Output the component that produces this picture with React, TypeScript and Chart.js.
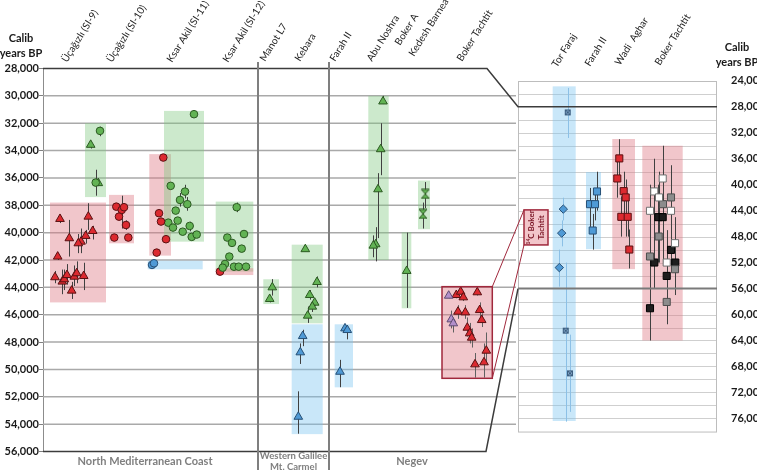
import React, { useEffect, useRef } from "react";
import { Chart, registerables } from "chart.js";

Chart.register(...registerables);

// ---------- data: [x position, calibrated age BP, error low, error high] ----------
type Pt = [number, number, number, number];

const X_RANGE = [43, 717];
const LEFT_RANGE = [28000, 56000];
const RIGHT_RANGE = [22100, 81100];
const LEFT_GRID = [30000, 32000, 34000, 36000, 38000, 40000, 42000, 44000, 46000, 48000, 50000, 52000, 54000];
const RIGHT_GRID = [26000, 30000, 32000, 34000, 36000, 38000, 40000, 42000, 44000, 46000, 48000, 50000, 52000, 54000, 58000, 60000, 62000, 64000, 66000, 68000, 70000, 72000, 74000, 76000];
const RIGHT_TICKS = [24000, 28000, 32000, 36000, 40000, 44000, 48000, 52000, 56000, 60000, 64000, 68000, 72000, 76000];
const PANEL_X = [518, 717];
const PANEL_Y = [24000, 78000];

// North Mediterranean coast
const SI9_GREEN_CIRCLE: Pt[] = [[100, 32560, 32250, 32950], [95.7, 36340, 35400, 37300]];
const SI9_GREEN_TRI: Pt[] = [[90.7, 33580, 33350, 33850], [98.3, 36380, 36200, 36600]];
const SI9_RED_TRI: Pt[] = [
  [60, 39000, 38700, 39300], [88.3, 38830, 37850, 39800], [92.7, 39880, 39500, 40500],
  [69.3, 40410, 39070, 41750], [85.7, 40240, 39800, 40800], [81, 40660, 39700, 41500],
  [78.3, 40780, 40100, 41500], [57.7, 41750, 41500, 42000], [55, 43260, 42800, 43700],
  [62.3, 43580, 42700, 44500], [64.3, 43410, 42700, 44200], [67, 43100, 42300, 43800],
  [74.3, 43220, 42400, 43900], [76.7, 42970, 42100, 43700], [83.7, 43170, 42200, 44200],
  [71.7, 44240, 43600, 44850],
];
const SI10_RED_CIRCLE: Pt[] = [
  [116.3, 38100, 37900, 38300], [121.7, 38340, 37300, 39700], [124, 38140, 37900, 38400],
  [119, 38830, 38600, 39100], [126, 39440, 39100, 39800], [114.3, 40360, 40100, 40600],
  [128.3, 40360, 40100, 40600],
];
const SI11_RED_CIRCLE: Pt[] = [
  [163.3, 34510, 34400, 34620], [159, 38580, 38450, 38700], [161, 39190, 39050, 39300],
  [166, 40480, 40350, 40600], [156.7, 41460, 41350, 41580],
];
const SI11_BLUE_CIRCLE: Pt[] = [[152, 42360, 42300, 42420], [154, 42240, 42180, 42300]];
const SI11_GREEN_CIRCLE: Pt[] = [
  [194, 31340, 31250, 31430], [170.7, 36580, 36450, 36700], [185, 37000, 36500, 37500],
  [180, 37610, 37100, 38100], [187.3, 37920, 37400, 38400], [175.7, 38390, 38250, 38500],
  [177.7, 39120, 39000, 39250], [168.3, 39270, 39150, 39400], [173, 39630, 39500, 39750],
  [189.7, 39510, 39200, 39900], [182.7, 39930, 39800, 40050], [191.7, 40310, 40200, 40450],
  [196.7, 40140, 40000, 40250],
];
const SI12_GREEN_CIRCLE: Pt[] = [
  [236.7, 38140, 37800, 38500], [227.3, 40360, 40250, 40500], [244, 40100, 40000, 40200],
  [232, 40750, 40650, 40850], [241.7, 41170, 41050, 41300], [229.3, 41750, 41650, 41850],
  [225, 42290, 42200, 42400], [222.7, 42560, 42450, 42650], [234, 42490, 42400, 42600],
  [238.7, 42490, 42400, 42600], [246, 42490, 42400, 42600],
];
const SI12_RED_CIRCLE: Pt[] = [[220, 42850, 42750, 42950]];

// Western Galilee / Mt. Carmel
const MANOT_GREEN_TRI: Pt[] = [[272.3, 44000, 43400, 44600], [269.7, 44850, 44600, 45100]];
const KEBARA_GREEN_TRI: Pt[] = [
  [305.3, 41210, 41100, 41350], [317, 43610, 43200, 44000], [309.7, 44560, 44200, 44900],
  [314.7, 45120, 44900, 45350], [312.3, 45410, 45000, 45800], [307.7, 46070, 45400, 46600],
];
const KEBARA_BLUE_TRI: Pt[] = [[302.7, 47560, 47100, 48300], [300.3, 48750, 48100, 49600], [298.3, 53460, 51600, 54700]];

// Negev
const FARAH_BLUE_TRI: Pt[] = [[345, 47000, 46800, 47300], [347.3, 47120, 46800, 47800], [340, 50170, 49300, 51300]];
const ABU_NOSHRA_GREEN_TRI: Pt[] = [
  [383, 30410, 30000, 30600], [380.7, 33900, 32000, 35800], [378, 36830, 35650, 40400],
  [375.7, 40850, 39600, 42100], [373.3, 40950, 40200, 41800],
];
const BOKER_A_GREEN_TRI: Pt[] = [[406.7, 42800, 40000, 45500]];
const KEDESH_GREEN_HOURGLASS: Pt[] = [[425.3, 37170, 36300, 38200], [423, 38630, 37800, 39700]];
const BOKER_T_PURPLE_TRI: Pt[] = [[448.7, 44610, 44450, 44800], [451.3, 46340, 45700, 47000], [453.3, 46630, 46200, 47300]];
const BOKER_T_RED_TRI: Pt[] = [
  [456.3, 44560, 44300, 44800], [460.7, 44320, 44000, 44700], [463.3, 44730, 44500, 45000],
  [477.3, 44360, 44100, 44600], [458, 45780, 45300, 46300], [465.3, 45830, 45300, 46300],
  [479.7, 45660, 45100, 46300], [481.7, 46390, 45900, 46900], [467.3, 46950, 46200, 47600],
  [469.7, 47360, 46600, 48100], [471.7, 47680, 47000, 48400], [486.3, 48630, 47300, 49500],
  [475, 49630, 48800, 50600], [484, 49480, 48100, 50600],
];

// Right panel (other scale)
const TOR_FARAJ_DIAMOND: Pt[] = [[563.3, 43760, 42000, 45500], [561.7, 47460, 45500, 49500], [559.3, 52770, 50000, 55700]];
const TOR_FARAJ_CROSS: Pt[] = [[567.7, 28860, 25100, 32800], [565.7, 62480, 52000, 76500], [570, 69060, 63100, 75000]];
const FARAH_R_BLUE_SQ: Pt[] = [[597, 41040, 38000, 44000], [590, 43000, 40500, 46500], [595, 43000, 41500, 45500], [592.7, 47060, 44500, 50000]];
const WADI_AGHAR_RED_SQ: Pt[] = [
  [619.3, 35950, 33000, 38800], [617.3, 39040, 35900, 42000], [623.7, 40990, 38000, 44400],
  [625.7, 41960, 39200, 48000], [621.3, 44950, 41800, 48000], [627.7, 44950, 42000, 48000],
  [629.3, 49990, 46900, 52900],
];
const BOKER_T_WHITE_SQ: Pt[] = [
  [662.7, 39040, 34000, 52000], [654.3, 41040, 36000, 50000], [659, 41960, 38000, 49000],
  [650, 44020, 40000, 51000], [671, 44020, 38500, 53000], [675, 49010, 45000, 55000],
  [666.7, 51990, 47000, 55000],
];
const BOKER_T_GRAY_SQ: Pt[] = [
  [671, 41960, 37000, 49000], [663, 43000, 38500, 51000], [658.7, 47980, 45000, 52000],
  [650, 51060, 46000, 56000], [675, 53020, 49000, 57000], [666.7, 58060, 54000, 61500],
];
const BOKER_T_BLACK_SQ: Pt[] = [
  [658.3, 45000, 40000, 52000], [662.7, 45000, 40000, 52000], [671, 50040, 39000, 52000],
  [654.3, 51990, 44000, 56000], [675.3, 51990, 46500, 55000], [666.7, 54050, 48000, 61000],
  [650, 59030, 44000, 64000],
];

// shaded ranges: [axis, colour kind, x0, x1, age top, age bottom]
const REGIONS: [string, string, number, number, number, number][] = [
  ["y", "pink", 50, 106, 37800, 45100],
  ["y", "green", 85, 106, 32000, 37400],
  ["y", "pink", 109, 134, 37240, 40780],
  ["y", "pink", 149.3, 171, 34260, 41680],
  ["y", "green", 164, 204, 31100, 40660],
  ["y", "blue", 147.7, 202.7, 42050, 42680],
  ["y", "green", 215.7, 253.3, 37730, 42850],
  ["y", "pink", 215.7, 253.3, 42600, 43100],
  ["y", "green", 263.3, 279, 43410, 45220],
  ["y", "green", 291.7, 322.7, 40880, 46630],
  ["y", "blue", 291.7, 322.7, 46700, 54730],
  ["y", "blue", 334.7, 353, 46700, 51310],
  ["y", "green", 368.3, 388.7, 30000, 42000],
  ["y", "green", 401.7, 411.3, 39970, 45530],
  ["y", "green", 418, 430, 36190, 39750],
  ["y", "pink", 442, 492.3, 43950, 50650],
  ["y2", "blue", 552.7, 575.7, 24850, 76400],
  ["y2", "blue", 586, 601, 38050, 49930],
  ["y2", "pink", 612.3, 635, 32960, 53010],
  ["y2", "pink", 642.3, 682.7, 34000, 64000],
];
const ZOOM_BOX = [442, 492.3, 43950, 50650];
const ZOOM_LABEL = [524, 548, 43880, 49280];

// labels: [text, x, baseline y]
const SITE_LABELS: [string, number, number][] = [
  ["Üçağızlı (SI-9)", 67, 63], ["Üçağızlı (SI-10)", 112, 63], ["Ksar Akil (SI-11)", 172, 63],
  ["Ksar Akil (SI-12)", 228, 63], ["Manot L7", 265, 62], ["Kebara", 300, 62], ["Farah II", 335, 62],
  ["Abu Noshra", 372, 62], ["Boker A", 400, 46], ["Kedesh Barnea", 414, 57], ["Boker Tachtit", 462, 62],
  ["Tor Faraj", 557, 68], ["Farah II", 590, 67], ["Wadi  Aghar", 620, 66], ["Boker Tachtit", 660, 66],
];
const REGION_LABELS: [string, number, number, number][] = [
  ["North Mediterranean Coast", 145, 461, 11], ["Western Galilee", 293.5, 456, 9.5],
  ["Mt. Carmel", 293.5, 467, 9.5], ["Negev", 412, 461, 11],
];
const SEPARATORS = [258, 329];

// ---------- styles ----------
const FILL: Record<string, string> = {
  red: "#dc2a30", green: "#62b354", blue: "#4f9ad6", purple: "#b28fca",
  white: "#ffffff", gray: "#8c8c8c", black: "#1e1e1e", steel: "#7fa3c7",
};
const EDGE: Record<string, string> = {
  red: "#5a1012", green: "#2b5921", blue: "#264f75", purple: "#5f4a70",
  white: "#707070", gray: "#4d4d4d", black: "#000000", steel: "#3d5f80",
};
const REGION_FILL: Record<string, string> = {
  pink: "rgba(222,118,132,0.42)", green: "rgba(128,200,128,0.40)", blue: "rgba(120,196,240,0.40)",
};
const FONT = "Lato, 'Open Sans', 'DejaVu Sans', sans-serif";

const fmt = (v: number) => String(v).replace(/\B(?=(\d{3})+(?!\d))/g, ",");

function hourglass(): HTMLCanvasElement {
  const c = document.createElement("canvas");
  c.width = 10; c.height = 11;
  const g = c.getContext("2d")!;
  g.fillStyle = FILL.green; g.strokeStyle = EDGE.green; g.lineWidth = 1;
  g.beginPath();
  g.moveTo(1, 1); g.lineTo(9, 1); g.lineTo(5, 5.5); g.closePath();
  g.moveTo(5, 5.5); g.lineTo(9, 10); g.lineTo(1, 10); g.closePath();
  g.fill(); g.stroke();
  return c;
}
function crossSquare(): HTMLCanvasElement {
  const c = document.createElement("canvas");
  c.width = 8; c.height = 8;
  const g = c.getContext("2d")!;
  g.fillStyle = FILL.steel; g.fillRect(1, 1, 6, 6);
  g.strokeStyle = EDGE.steel; g.lineWidth = 1;
  g.strokeRect(1.5, 1.5, 5, 5);
  g.beginPath(); g.moveTo(1.5, 1.5); g.lineTo(6.5, 6.5); g.moveTo(6.5, 1.5); g.lineTo(1.5, 6.5); g.stroke();
  return c;
}

function buildDatasets() {
  const hg = hourglass();
  const cs = crossSquare();
  const spec: [Pt[], string, any, string, number, string][] = [
    [SI9_GREEN_CIRCLE, "y", "circle", "green", 3.8, "#404040"],
    [SI9_GREEN_TRI, "y", "triangle", "green", 5, "#404040"],
    [SI9_RED_TRI, "y", "triangle", "red", 5, "#404040"],
    [SI10_RED_CIRCLE, "y", "circle", "red", 3.8, "#404040"],
    [SI11_RED_CIRCLE, "y", "circle", "red", 3.8, "#404040"],
    [SI11_BLUE_CIRCLE, "y", "circle", "blue", 3.8, "#404040"],
    [SI11_GREEN_CIRCLE, "y", "circle", "green", 3.8, "#404040"],
    [SI12_GREEN_CIRCLE, "y", "circle", "green", 3.8, "#404040"],
    [SI12_RED_CIRCLE, "y", "circle", "red", 3.8, "#404040"],
    [MANOT_GREEN_TRI, "y", "triangle", "green", 5, "#404040"],
    [KEBARA_GREEN_TRI, "y", "triangle", "green", 5, "#404040"],
    [KEBARA_BLUE_TRI, "y", "triangle", "blue", 5, "#404040"],
    [FARAH_BLUE_TRI, "y", "triangle", "blue", 5, "#404040"],
    [ABU_NOSHRA_GREEN_TRI, "y", "triangle", "green", 5, "#404040"],
    [BOKER_A_GREEN_TRI, "y", "triangle", "green", 5, "#404040"],
    [KEDESH_GREEN_HOURGLASS, "y", hg, "green", 5, "#404040"],
    [BOKER_T_PURPLE_TRI, "y", "triangle", "purple", 5, "#606060"],
    [BOKER_T_RED_TRI, "y", "triangle", "red", 5, "#606060"],
    [TOR_FARAJ_DIAMOND, "y2", "rectRot", "blue", 4.2, "#8cc0e6"],
    [TOR_FARAJ_CROSS, "y2", cs, "steel", 4, "#8cc0e6"],
    [FARAH_R_BLUE_SQ, "y2", "rect", "blue", 5, "#404040"],
    [WADI_AGHAR_RED_SQ, "y2", "rect", "red", 5, "#404040"],
    [BOKER_T_WHITE_SQ, "y2", "rect", "white", 5, "#404040"],
    [BOKER_T_GRAY_SQ, "y2", "rect", "gray", 5, "#404040"],
    [BOKER_T_BLACK_SQ, "y2", "rect", "black", 5, "#404040"],
  ];
  return spec.map(([pts, axis, shape, kind, r, err]) => ({
    type: "scatter" as const,
    data: pts.map(([x, y, lo, hi]) => ({ x, y, lo, hi })),
    yAxisID: axis,
    pointStyle: shape,
    pointRadius: r,
    pointBackgroundColor: FILL[kind],
    pointBorderColor: EDGE[kind],
    pointBorderWidth: 1,
    errColor: err,
  }));
}

function rotText(ctx: CanvasRenderingContext2D, t: string, x: number, y: number, deg: number) {
  ctx.save();
  ctx.translate(x, y);
  ctx.rotate((deg * Math.PI) / 180);
  ctx.fillText(t, 0, 0);
  ctx.restore();
}

const decor = {
  id: "decor",
  beforeDatasetsDraw(chart: any) {
    const { ctx } = chart;
    const X = (v: number) => chart.scales.x.getPixelForValue(v);
    const YL = (v: number) => chart.scales.y.getPixelForValue(v);
    const YR = (v: number) => chart.scales.y2.getPixelForValue(v);
    const line = (x0: number, y0: number, x1: number, y1: number) => {
      ctx.beginPath(); ctx.moveTo(x0, y0); ctx.lineTo(x1, y1); ctx.stroke();
    };
    ctx.save();
    // right panel grid
    ctx.lineWidth = 1; ctx.strokeStyle = "#cfcfcf";
    RIGHT_GRID.forEach((v) => { const y = Math.round(YR(v)) + 0.5; line(X(PANEL_X[0]), y, X(PANEL_X[1]), y); });
    ctx.strokeStyle = "#bdbdbd";
    ctx.strokeRect(X(PANEL_X[0]) + 0.5, Math.round(YR(PANEL_Y[0])) + 0.5, X(PANEL_X[1]) - X(PANEL_X[0]) - 1, YR(PANEL_Y[1]) - YR(PANEL_Y[0]));
    // left grid
    ctx.lineWidth = 1.5; ctx.strokeStyle = "#a9a9a9";
    LEFT_GRID.forEach((v) => { const y = YL(v); line(X(X_RANGE[0]), y, X(516), y); });
    // shaded regions
    REGIONS.forEach(([axis, kind, x0, x1, y0, y1]) => {
      const Y = axis === "y" ? YL : YR;
      ctx.fillStyle = REGION_FILL[kind];
      ctx.fillRect(X(x0), Y(y0), X(x1) - X(x0), Y(y1) - Y(y0));
    });
    // error bars
    ctx.lineWidth = 1;
    chart.data.datasets.forEach((ds: any, i: number) => {
      const meta = chart.getDatasetMeta(i);
      const sc = chart.scales[ds.yAxisID];
      ctx.strokeStyle = ds.errColor;
      meta.data.forEach((el: any, j: number) => {
        const d = ds.data[j];
        const x = Math.round(el.x) + 0.5;
        line(x, sc.getPixelForValue(d.lo), x, sc.getPixelForValue(d.hi));
      });
    });
    ctx.restore();
  },
  afterDatasetsDraw(chart: any) {
    const { ctx } = chart;
    const X = (v: number) => chart.scales.x.getPixelForValue(v);
    const YL = (v: number) => chart.scales.y.getPixelForValue(v);
    const YR = (v: number) => chart.scales.y2.getPixelForValue(v);
    const line = (x0: number, y0: number, x1: number, y1: number) => {
      ctx.beginPath(); ctx.moveTo(x0, y0); ctx.lineTo(x1, y1); ctx.stroke();
    };
    ctx.save();
    // top & bottom frame lines with connectors into right panel
    ctx.lineWidth = 1.5; ctx.strokeStyle = "#3c3c3c";
    ctx.beginPath();
    ctx.moveTo(X(X_RANGE[0]), YL(LEFT_RANGE[0])); ctx.lineTo(X(487), YL(LEFT_RANGE[0]));
    ctx.lineTo(X(PANEL_X[0]), YR(28000)); ctx.lineTo(X(PANEL_X[1]), YR(28000));
    ctx.stroke();
    ctx.beginPath();
    ctx.moveTo(X(X_RANGE[0]), YL(LEFT_RANGE[1])); ctx.lineTo(X(486), YL(LEFT_RANGE[1]));
    ctx.lineTo(X(PANEL_X[0]), YR(56000));
    ctx.stroke();
    ctx.lineWidth = 2; ctx.strokeStyle = "#7a7a7a";
    line(X(PANEL_X[0]), YR(56000), X(PANEL_X[1]), YR(56000));
    // separators
    ctx.lineWidth = 2; ctx.strokeStyle = "#7f7f7f";
    SEPARATORS.forEach((s) => line(X(s), 62, X(s), 470));
    // zoom box + connectors + label
    ctx.strokeStyle = "#a0283c"; ctx.lineWidth = 1.5;
    ctx.strokeRect(X(ZOOM_BOX[0]), YL(ZOOM_BOX[2]), X(ZOOM_BOX[1]) - X(ZOOM_BOX[0]), YL(ZOOM_BOX[3]) - YL(ZOOM_BOX[2]));
    ctx.lineWidth = 1;
    line(X(ZOOM_BOX[1]), YL(ZOOM_BOX[2]), X(ZOOM_LABEL[0]), YR(ZOOM_LABEL[2]));
    line(X(ZOOM_BOX[1]), YL(ZOOM_BOX[3]), X(ZOOM_LABEL[0]), YR(ZOOM_LABEL[3]));
    const lx0 = X(ZOOM_LABEL[0]), lx1 = X(ZOOM_LABEL[1]), ly0 = YR(ZOOM_LABEL[2]), ly1 = YR(ZOOM_LABEL[3]);
    ctx.fillStyle = "#f2c5ca";
    ctx.fillRect(lx0, ly0, lx1 - lx0, ly1 - ly0);
    ctx.lineWidth = 1.5;
    ctx.strokeRect(lx0, ly0, lx1 - lx0, ly1 - ly0);
    ctx.save();
    ctx.translate((lx0 + lx1) / 2, (ly0 + ly1) / 2);
    ctx.rotate(-Math.PI / 2);
    ctx.fillStyle = "#7a1525";
    ctx.textBaseline = "middle";
    ctx.font = `bold 5px ${FONT}`;
    const w14 = ctx.measureText("14").width;
    ctx.font = `bold 8px ${FONT}`;
    const wRest = ctx.measureText("C Boker").width;
    const start = -(w14 + wRest) / 2;
    ctx.textAlign = "left";
    ctx.fillText("C Boker", start + w14, -5);
    ctx.font = `bold 5px ${FONT}`;
    ctx.fillText("14", start, -7.5);
    ctx.font = `bold 8px ${FONT}`;
    ctx.textAlign = "center";
    ctx.fillText("Tachtit", 0, 5.5);
    ctx.restore();
    // site labels
    ctx.fillStyle = "#1f1f1f";
    ctx.font = `10px ${FONT}`;
    ctx.textAlign = "left"; ctx.textBaseline = "alphabetic";
    SITE_LABELS.forEach(([t, x, y]) => rotText(ctx, t, X(x), y, -58));
    // region labels
    ctx.fillStyle = "#7f7f7f"; ctx.textAlign = "center"; ctx.textBaseline = "middle";
    REGION_LABELS.forEach(([t, x, y, s]) => { ctx.font = `bold ${s}px ${FONT}`; ctx.fillText(t, X(x), y); });
    // axis titles
    ctx.fillStyle = "#1a1a1a"; ctx.font = `bold 11px ${FONT}`;
    ctx.fillText("Calib", 21, 38); ctx.fillText("years BP", 21, 53);
    ctx.fillText("Calib", 737, 47); ctx.fillText("years BP", 737, 62);
    ctx.restore();
  },
};

export default function App() {
  const ref = useRef<HTMLCanvasElement>(null);
  useEffect(() => {
    document.body.style.margin = "0";
    let chart: Chart | null = null;
    let cancelled = false;
    const ready = (document as any).fonts
      ? Promise.all([document.fonts.load(`bold 11px Lato`), document.fonts.load(`11px Lato`)]).catch(() => null)
      : Promise.resolve(null);
    ready.then(() => {
      if (cancelled || !ref.current) return;
      chart = new Chart(ref.current, {
        type: "scatter",
        data: { datasets: buildDatasets() as any },
        plugins: [decor],
        options: {
          animation: false,
          responsive: false,
          layout: { padding: { top: 68.5, bottom: 20.5, left: 0, right: 0 } },
          plugins: { legend: { display: false }, tooltip: { enabled: false } },
          scales: {
            x: { type: "linear", display: false, min: X_RANGE[0], max: X_RANGE[1] },
            y: {
              type: "linear", position: "left", reverse: true, min: LEFT_RANGE[0], max: LEFT_RANGE[1],
              ticks: {
                stepSize: 2000, autoSkip: false, padding: 0, color: "#1a1a1a",
                font: { family: FONT, weight: "bold", size: 11 },
                callback: (v: any) => fmt(Number(v)),
              },
              grid: { drawOnChartArea: false, drawTicks: true, tickLength: 4, color: "#808080" },
              border: { display: true, color: "#8c8c8c", width: 1 },
              afterFit: (s: any) => { s.width = 43; },
            },
            y2: {
              type: "linear", position: "right", reverse: true, min: RIGHT_RANGE[0], max: RIGHT_RANGE[1],
              afterBuildTicks: (s: any) => { s.ticks = RIGHT_TICKS.map((value) => ({ value })); },
              ticks: {
                autoSkip: false, padding: 6, color: "#1a1a1a",
                font: { family: FONT, weight: "bold", size: 11 },
                callback: (v: any) => fmt(Number(v)),
              },
              grid: { display: false },
              border: { display: false },
              afterFit: (s: any) => { s.width = 40; },
            },
          },
        } as any,
      });
    });
    return () => { cancelled = true; chart?.destroy(); };
  }, []);
  return <canvas ref={ref} width={757} height={472} style={{ display: "block" }} />;
}
